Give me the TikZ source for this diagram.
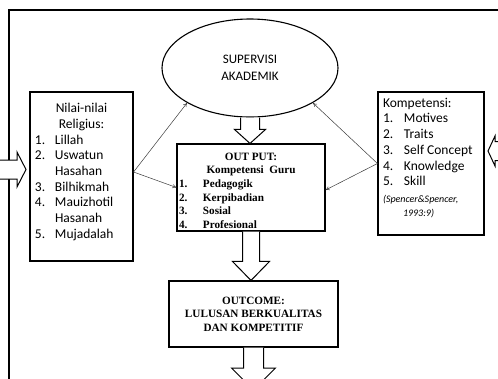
\documentclass[tikz,border=0pt]{standalone}
\usepackage{fontspec}
\usepackage{tikz}
\usetikzlibrary{positioning, arrows.meta, shapes.geometric, calc}
\newfontfamily\calibri{Carlito}
\newfontfamily\timesrm{Liberation Serif}
\definecolor{cLine}{HTML}{000000}
\definecolor{cLink}{HTML}{3A3A3A}

\tikzset{
  box/.style={draw=cLine, line width=1.1pt, fill=white, inner sep=0pt},
  fatarrow/.style={draw=cLine, line width=1pt, fill=white, line join=miter},
  link/.style={-{To[length=4pt, width=4pt]}, line width=0.5pt, draw=cLink},
}
\newcommand{\numlbl}[2]{\makebox[#1][l]{#2}}
% block arrows: from, tip, shaft half, head half, head length
\newcommand{\fatdown}[5]{%
  \draw[fatarrow] let \p1=(#1), \p2=(#2) in
    (\x1-#3,\y1) -- (\x1-#3,\y2+#5) -- (\x1-#4,\y2+#5) -- (\x1,\y2)
    -- (\x1+#4,\y2+#5) -- (\x1+#3,\y2+#5) -- (\x1+#3,\y1);}
\newcommand{\fatright}[5]{%
  \draw[fatarrow] let \p1=(#1), \p2=(#2) in
    (\x1,\y1+#3) -- (\x2-#5,\y1+#3) -- (\x2-#5,\y1+#4) -- (\x2,\y1)
    -- (\x2-#5,\y1-#4) -- (\x2-#5,\y1-#3) -- (\x1,\y1-#3);}
\newcommand{\fatleft}[5]{%
  \draw[fatarrow] let \p1=(#1), \p2=(#2) in
    (\x1,\y1+#3) -- (\x2+#5,\y1+#3) -- (\x2+#5,\y1+#4) -- (\x2,\y1)
    -- (\x2+#5,\y1-#4) -- (\x2+#5,\y1-#3) -- (\x1,\y1-#3);}

\begin{document}
\begin{tikzpicture}[x=1pt, y=-1pt]
  \useasboundingbox (0,0) rectangle (498,378);
  \clip (0,0) rectangle (498,378);
  % outer frame
  \draw[line width=1.8pt] (9,400) -- (9,10) -- (520,10);

  \node[ellipse, draw=cLine, line width=1.1pt, fill=white, inner sep=0pt,
        minimum width=176pt, minimum height=98pt, align=center,
        font=\calibri\fontsize{13}{17}\selectfont] (sup) at (250,68)
        {SUPERVISI\\AKADEMIK};

  \node[box, font=\calibri\fontsize{13.5}{15.7}\selectfont] (lb) at (81.5,176.5)
    {\parbox[c][169pt][t]{103pt}{\vspace*{11.4pt}\centering Nilai-nilai\\ Religius:\par
     \raggedright\leftskip=5pt
     \numlbl{20pt}{1.}Lillah\\
     \numlbl{20pt}{2.}Uswatun\\
     \hspace*{20pt}Hasahan\\
     \numlbl{20pt}{3.}Bilhikmah\\
     \numlbl{20pt}{4.}Mauizhotil\\
     \hspace*{20pt}Hasanah\\
     \numlbl{20pt}{5.}Mujadalah\par}};

  \node[box, font=\calibri\fontsize{13.5}{15.7}\selectfont] (rb) at (431,163.5)
    {\parbox[c][143pt][t]{106pt}{\vspace*{6pt}\raggedright\leftskip=5pt
     Kompetensi:\\
     \numlbl{21pt}{1.}Motives\\
     \numlbl{21pt}{2.}Traits\\
     \numlbl{21pt}{3.}Self Concept\\
     \numlbl{21pt}{4.}Knowledge\\
     \numlbl{21pt}{5.}Skill\par
     \vspace{2.5pt}
     {\fontsize{10}{14}\selectfont\itshape (Spencer\&Spencer,\\
      \hspace*{20pt}1993:9)\par}}};

  \node[box, font=\timesrm\bfseries\fontsize{11.2}{13.7}\selectfont] (out) at (251,187.5)
    {\parbox[c][87pt][t]{148pt}{\vspace*{8.6pt}\centering OUT PUT:\\ Kompetensi\ \ Guru\par
     \raggedright\leftskip=2pt
     \numlbl{24pt}{1.}Pedagogik\\
     \numlbl{24pt}{2.}Kerpibadian\\
     \numlbl{24pt}{3.}Sosial\\
     \numlbl{24pt}{4.}Profesional\par}};

  \node[box, minimum width=169pt, minimum height=66pt, align=center,
        font=\timesrm\bfseries\fontsize{11.2}{13.6}\selectfont] (outc) at (253.5,314)
    {OUTCOME:\\LULUSAN BERKUALITAS\\DAN KOMPETITIF};

  % thin connectors
  \coordinate (lsrc) at ([yshift=4.5pt]lb.east);
  \draw[link] (lsrc) -- (sup.209);
  \draw[link] (lsrc) -- (out.west);
  \draw[link] (rb.west) -- (sup.331);
  \draw[link] (rb.west) -- ([yshift=-2.5pt]out.east);

  % block arrows
  \coordinate (lin) at (-10,169.5);
  \coordinate (ltip) at (26,169.5);
  \coordinate (rin) at (520,151);
  \coordinate (rtip) at (488,151);
  \coordinate (dtip) at (253.5,390);
  \fatdown{sup.south}{out.north}{9.5pt}{15.5pt}{14pt}
  \fatdown{out.south}{outc.north}{8.5pt}{18.5pt}{19pt}
  \fatdown{outc.south}{dtip}{10pt}{22pt}{22pt}
  \fatright{lin}{ltip}{9.5pt}{17.5pt}{9pt}
  \fatleft{rin}{rtip}{9.5pt}{15pt}{7pt}
\end{tikzpicture}
\end{document}
